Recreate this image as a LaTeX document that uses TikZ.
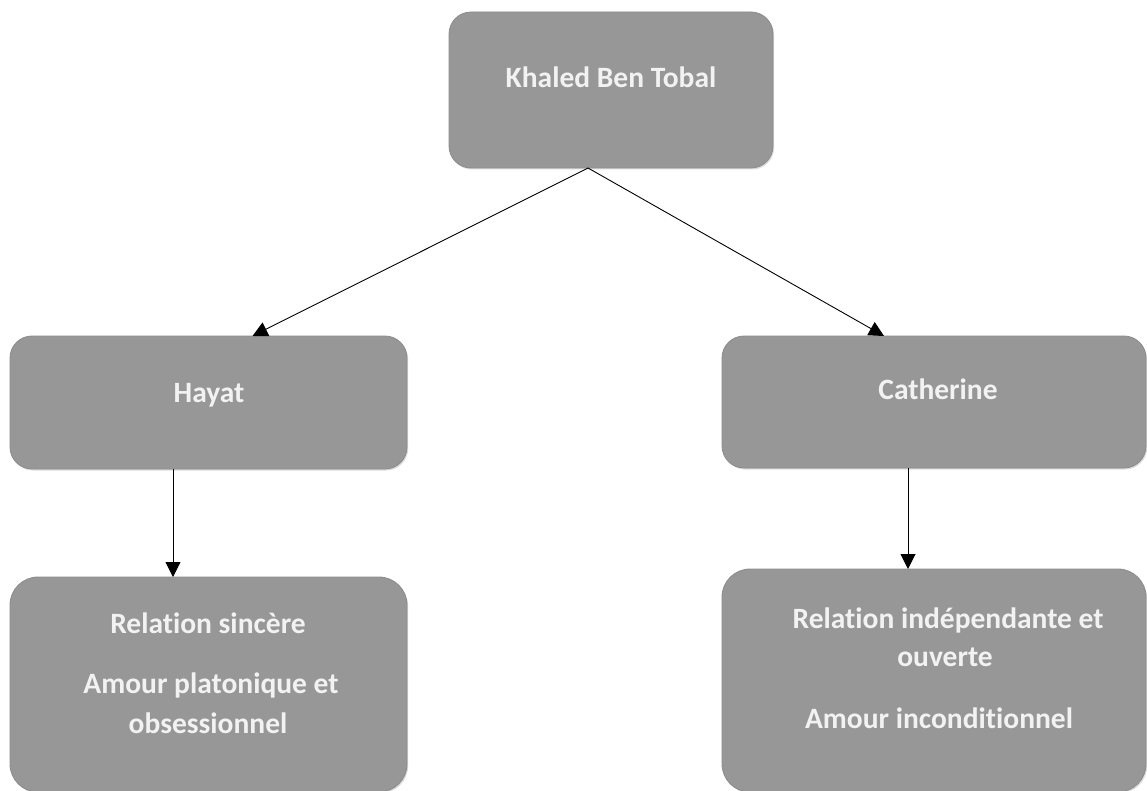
\documentclass[tikz,border=0pt]{standalone}
\usepackage{fontspec}
\setmainfont[Ligatures={NoCommon}]{Carlito}
\usetikzlibrary{arrows.meta,shadows}
\definecolor{boxfill}{HTML}{979797}
\definecolor{boxline}{HTML}{8C8C8C}
\definecolor{boxtext}{HTML}{F2F2F2}
\tikzset{
  box/.style={draw=boxline, line width=0.8pt, fill=boxfill, inner sep=0pt, outer sep=0pt,
    rounded corners=22pt, drop shadow={shadow xshift=1.2pt, shadow yshift=-1.5pt, fill=black!30, opacity=0.45}},
  lbl/.style={text=boxtext, font=\bfseries\fontsize{29.5}{35}\selectfont, inner sep=0pt, anchor=base},
  arr/.style={-{Triangle[length=15pt,width=15pt]}, line width=0.9pt, black},
}
\begin{document}
\begin{tikzpicture}[x=1pt,y=-1pt]
\useasboundingbox (0,0) rectangle (1147,791);
\fill[white] (0,0) rectangle (1147,791);
\node[box, minimum width=324pt, minimum height=156pt] (top) at (611,90) {};
\node[box, minimum width=397pt, minimum height=133pt] (hayat) at (208.5,402.5) {};
\node[box, minimum width=424pt, minimum height=132pt] (cath) at (934,402) {};
\node[box, rounded corners=28pt, minimum width=397pt, minimum height=215pt] (bl) at (208.5,684.5) {};
\node[box, rounded corners=28pt, minimum width=424pt, minimum height=223pt] (br) at (934,680.5) {};

\node[lbl] (ttop) at (611,88) {Khaled Ben Tobal};
\node[lbl] (thayat) at (209,402) {Hayat};
\node[lbl] (tcath) at (938,399) {Catherine};
\node[lbl] (tbl1) at (208,633) {Relation sincère};
\node[lbl] (tbl2) at (211,693) {Amour platonique et};
\node[lbl] (tbl3) at (208,733) {obsessionnel};
\node[lbl] (tbr1) at (948,628) {Relation indépendante et};
\node[lbl] (tbr2) at (945,666) {ouverte};
\node[lbl] (tbr3) at (939,728) {Amour inconditionnel};

\draw[arr] ([xshift=-23pt]top.south) -- ([xshift=44pt]hayat.north);
\draw[arr] ([xshift=-23pt]top.south) -- ([xshift=-50pt]cath.north);
\draw[arr] ([xshift=-35.5pt]hayat.south) -- ([xshift=-35.5pt]bl.north);
\draw[arr] ([xshift=-26pt]cath.south) -- ([xshift=-26pt]br.north);
\end{tikzpicture}
\end{document}
